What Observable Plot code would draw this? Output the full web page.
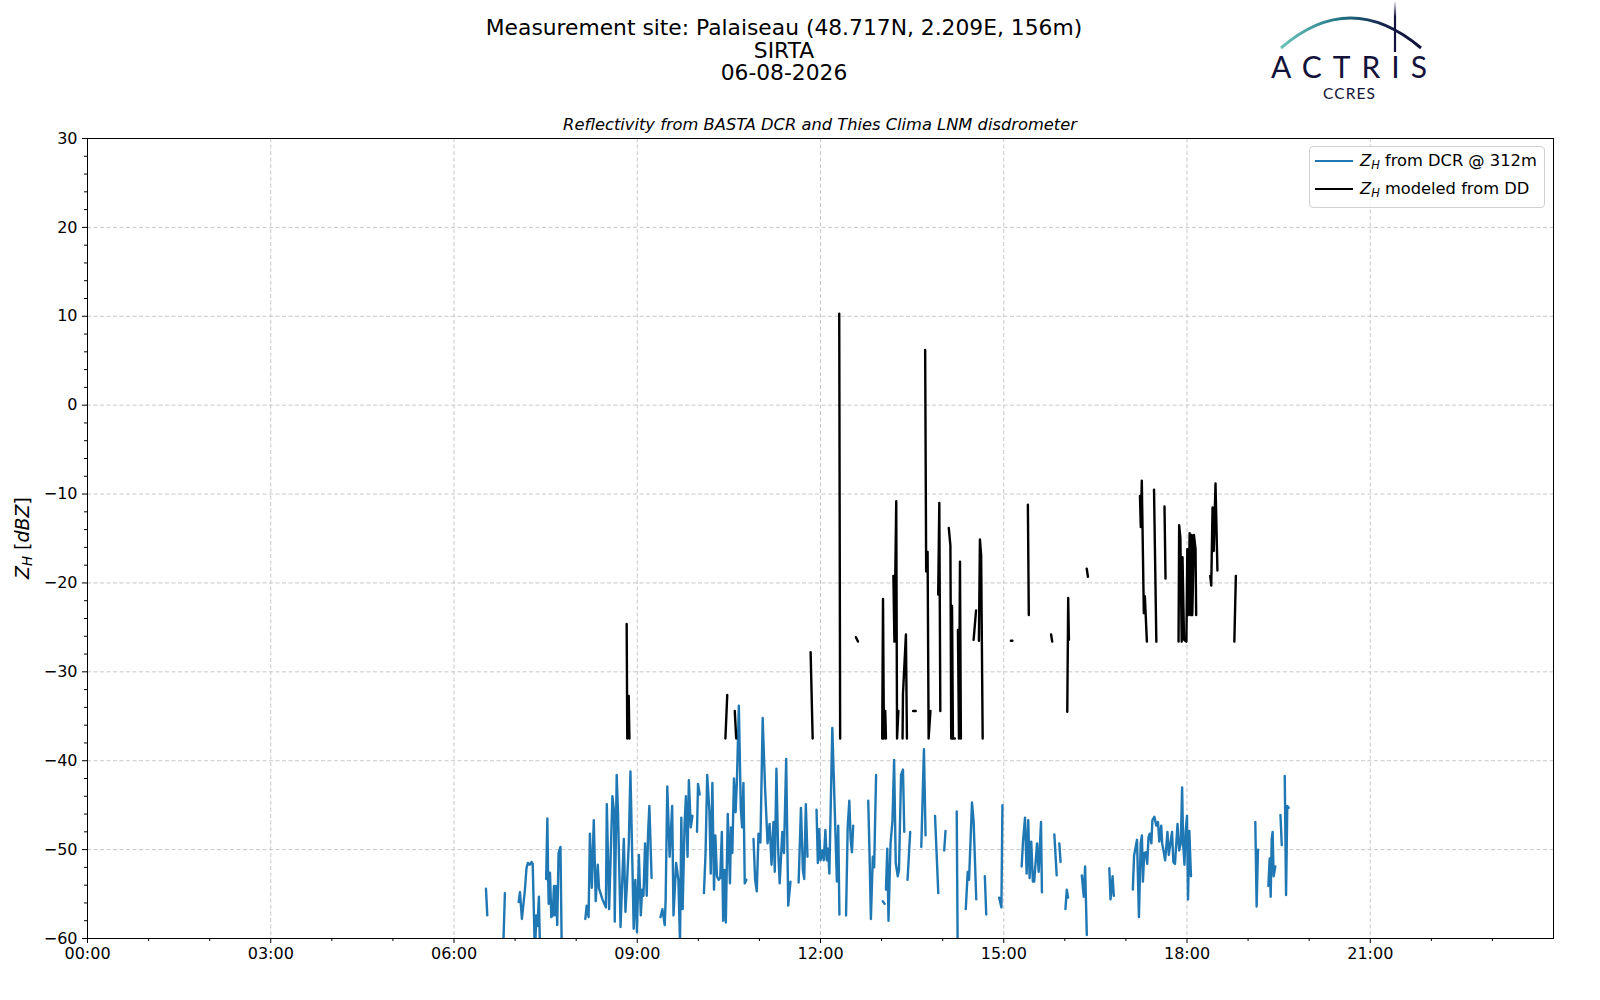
<!DOCTYPE html>
<html>
<head>
<meta charset="utf-8">
<script src="https://cdn.jsdelivr.net/npm/d3@7"></script>
<script src="https://cdn.jsdelivr.net/npm/@observablehq/plot@0.6"></script>
<style>
  html, body { margin: 0; padding: 0; background: #fff; }
  body { font-family: "DejaVu Sans", sans-serif; color: #000; }
  #wrap { position: relative; width: 1600px; height: 1000px; overflow: hidden; }
  #chart { position: absolute; left: 0; top: 0; }
  #title { position: absolute; left: 284px; width: 1000px; top: 17px; text-align: center;
           font-size: 21.8px; line-height: 22.5px; }
  #sub { position: absolute; left: 420px; width: 800px; top: 114px; text-align: center;
         font-size: 16.3px; line-height: 22px; font-style: italic; }
  #legend { position: absolute; left: 1309px; top: 146px; width: 236px; height: 62px;
            border: 1px solid #d0d0d0; border-radius: 4px; background: rgba(255,255,255,0.8);
            box-sizing: border-box; font-size: 16.3px; }
  .lg-line { position: absolute; left: 5px; width: 38px; height: 2px; }
  .lg-text { position: absolute; left: 50px; line-height: 22px; white-space: nowrap; }
  sub { font-size: 70%; vertical-align: -0.25em; line-height: 0; }
  #ylab { position: absolute; left: -78px; top: 526px; width: 200px; height: 24px; line-height: 24px;
          text-align: center; font-size: 19px; transform: rotate(-90deg); transform-origin: 100px 12px; white-space: nowrap; }
  #logo { position: absolute; left: 0; top: 0; }
  .logotxt { position: absolute; font-family: Lato, "DejaVu Sans", sans-serif; color: #12123a; white-space: nowrap; line-height: 1; }
  #actris { left: 1271px; top: 50.9px; font-size: 30px; }
  #ccres { left: 1323px; top: 86.2px; font-size: 15.5px; }
</style>
</head>
<body>
<div id="wrap">
  <div id="chart"></div>
  <div id="title">Measurement site: Palaiseau (48.717N, 2.209E, 156m)<br>SIRTA<br>06-08-2026</div>
  <div id="sub">Reflectivity from BASTA DCR and Thies Clima LNM disdrometer</div>
  <div id="legend">
    <div class="lg-line" style="top:13px;background:#1f77b4"></div>
    <div class="lg-text" style="top:3px"><i>Z</i><sub><i>H</i></sub> from DCR @ 312m</div>
    <div class="lg-line" style="top:41px;background:#000"></div>
    <div class="lg-text" style="top:31px"><i>Z</i><sub><i>H</i></sub> modeled from DD</div>
  </div>
  <div id="ylab"><i>Z</i><sub><i>H</i></sub> [<i>dBZ</i>]</div>
  <svg id="logo" width="1600" height="60" viewBox="0 0 1600 60">
    <defs>
      <linearGradient id="arcg" x1="1281" y1="0" x2="1420" y2="0" gradientUnits="userSpaceOnUse">
        <stop offset="0" stop-color="#6cc5bd"/>
        <stop offset="0.45" stop-color="#1f6f80"/>
        <stop offset="0.75" stop-color="#16204a"/>
        <stop offset="1" stop-color="#12123a"/>
      </linearGradient>
      <linearGradient id="vg" x1="0" y1="2" x2="0" y2="52" gradientUnits="userSpaceOnUse">
        <stop offset="0" stop-color="#12123a" stop-opacity="0.1"/>
        <stop offset="0.3" stop-color="#12123a" stop-opacity="1"/>
      </linearGradient>
    </defs>
    <path d="M1281,48 Q1350,-12 1421,48" fill="none" stroke="url(#arcg)" stroke-width="3"/>
    <line x1="1395" y1="2" x2="1395" y2="52" stroke="url(#vg)" stroke-width="2.2"/>
  </svg>
  <div id="actris" class="logotxt">ACTRIS</div>
  <div id="ccres" class="logotxt">CCRES</div>
</div>
<script>
// ---- data (minutes after 00:00 UTC, reflectivity dBZ); null = gap ----
const dcrMin = [
  391.4,392.7,null,
  408.1,410.0,null,
  423.5,424.8,426.7,429.6,431.2,432.5,434.4,436.3,437.3,439.5,440.8,442.0,443.4,444.6,null,
  450.5,451.7,452.4,453.0,454.3,455.6,456.9,458.2,458.8,460.0,461.4,462.7,464.6,465.9,null,
  489.0,490.3,492.2,493.5,495.4,497.3,499.2,501.2,502.5,505.8,509.2,510.1,512.4,515.6,517.2,517.9,519.8,521.1,523.6,526.8,528.4,530.1,531.7,533.3,535.2,536.5,538.1,539.7,541.6,543.5,544.8,546.1,547.7,549.3,550.6,551.9,554.1,null,
  562.8,564.7,567.0,567.9,569.5,571.8,574.3,575.6,578.2,580.4,582.0,583.3,584.6,586.5,587.8,589.4,590.7,592.6,594.2,null,
  598.7,599.7,601.3,null,
  605.5,607.1,608.7,610.9,612.2,613.8,615.4,616.7,618.3,619.9,621.5,623.1,624.4,625.7,627.0,628.9,631.1,632.1,633.4,635.0,636.6,637.9,639.8,641.7,643.0,644.3,645.6,647.2,null,
  654.2,655.8,657.4,659.1,661.0,663.2,665.5,668.0,670.0,671.9,673.8,675.1,676.7,678.3,679.9,682.5,684.1,686.3,688.3,690.5,null,
  698.5,700.8,702.7,704.0,705.6,707.2,null,
  716.1,717.4,718.7,720.0,721.9,723.2,724.8,726.1,727.4,728.7,731.6,736.1,737.4,738.6,null,
  745.1,746.7,748.3,749.6,750.9,752.1,null,
  766.9,768.2,769.5,771.4,772.7,774.6,null,
  781.1,783.0,null,
  784.3,785.6,786.8,788.8,790.7,792.3,793.9,795.9,797.1,799.1,801.0,802.3,null,
  805.5,808.1,null,
  819.0,821.6,823.2,null,
  832.5,835.7,null,
  841.5,842.8,null,
  853.8,854.8,null,
  862.7,864.6,865.9,868.8,870.4,873.0,null,
  881.4,882.8,null,
  895.5,897.7,898.7,null,
  917.6,918.9,920.9,922.5,924.1,925.4,927.0,928.6,929.9,932.7,934.3,936.6,937.5,null,
  949.7,952.0,null,
  954.6,955.8,null,
  960.6,961.9,963.2,null,
  976.7,978.6,979.9,981.6,null,
  1003.7,1004.9,1006.9,1008.1,null,
  1026.8,1028.0,1030.9,1032.8,1034.5,1035.7,1036.7,1038.0,1039.6,1040.9,1042.2,1043.4,1045.0,1046.0,1047.9,1049.9,1051.5,1052.8,1054.7,1055.6,1056.9,1058.5,1059.5,1060.8,1062.1,1063.7,1065.3,1066.6,1068.2,1070.7,1072.3,1073.9,1075.2,1076.2,1077.5,1078.7,1080.0,1081.0,1082.3,1083.9,null,
  1147.1,1148.4,1149.7,null,
  1159.9,1161.2,1162.2,1163.2,1164.1,1165.1,1166.7,null,
  1171.8,1173.1,null,
  1176.0,1177.3,1178.5,1179.8
];
const dcrZ = [
  -54.4,-57.4,null,
  -62,-54.9,null,
  -55.9,-54.8,-57.8,-54.6,-52.1,-51.5,-51.7,-51.4,-51.6,-62,-57.4,-58.6,-55.3,-62,null,
  -53.3,-46.5,-52.6,-56.1,-52.6,-57.6,-57.4,-54.1,-57.4,-54.1,-58.5,-50.4,-49.7,-62,null,
  -57.8,-56.3,-57.6,-48.2,-54.3,-46.7,-55.8,-51.7,-54.4,-55.6,-56.5,-44.9,-56.7,-44.0,-45.7,-58.1,-41.6,-45.8,-58.7,-48.8,-57.0,-53.4,-49.3,-41.2,-51.5,-58.9,-53.4,-59.3,-50.6,-57.4,-54.5,-55.2,-49.3,-55.2,-48.2,-45.1,-53.2,null,
  -57.6,-56.7,-58.5,-55.6,-42.9,-50.8,-45.1,-57.4,-51.5,-53.4,-60.5,-46.4,-56.7,-47.1,-44.0,-50.8,-42.2,-47.5,-46.2,null,
  -48.0,-42.6,-43.8,null,
  -54.9,-50.4,-41.6,-45.7,-52.7,-42.5,-54.5,-48.4,-53.0,-53.4,-53.2,-48.0,-58.0,-52.3,-58.2,-46.0,-53.8,-47.5,-50.4,-42.0,-45.8,-42.3,-33.8,-45.3,-47.5,-42.5,-53.8,-53.4,null,
  -48.8,-53.4,-54.7,-48.2,-49.2,-35.2,-42.9,-49.3,-47.1,-51.7,-46.9,-52.5,-40.9,-49.7,-53.8,-48.0,-50.4,-39.8,-56.3,-53.6,null,
  -53.7,-45.3,-52.3,-53.3,-44.9,-50.8,null,
  -45.5,-51.5,-47.7,-51.2,-50.1,-51.2,-47.8,-51.2,-49.9,-52.7,-36.3,-53.6,-47.3,-57.3,null,
  -57.4,-47.5,-44.5,-48.8,-50.3,-47.3,null,
  -44.5,-50.6,-57.8,-50.8,-52.0,-41.6,null,
  -55.8,-56.1,null,
  -54.5,-49.9,-58.0,-49.3,-46.8,-39.9,-51.5,-53.0,-52.3,-41.6,-41.0,-48.0,null,
  -53.4,-48.0,null,
  -49.7,-38.7,-48.4,null,
  -46.2,-54.9,null,
  -50.1,-47.9,null,
  -45.7,-62,null,
  -56.7,-52.5,-53.4,-44.7,-46.8,-55.6,null,
  -53.0,-57.3,null,
  -55.4,-56.5,-45.0,null,
  -51.9,-49.1,-46.4,-52.7,-46.7,-53.2,-49.1,-53.6,-53.6,-49.3,-52.5,-46.9,-54.8,null,
  -48.3,-52.9,null,
  -49.3,-51.4,null,
  -56.7,-54.5,-55.4,null,
  -52.9,-55.3,-51.9,-59.6,null,
  -52.1,-55.6,-53.0,-55.2,null,
  -54.5,-50.7,-48.9,-57.6,-49.3,-48.4,-53.6,-50.4,-50.3,-51.6,-48.6,-48.2,-49.3,-46.7,-46.3,-47.3,-46.9,-49.1,-47.3,-49.3,-50.1,-51.2,-49.9,-48.0,-50.6,-49.3,-48.0,-51.4,-51.6,-47.1,-50.1,-49.3,-43.0,-49.3,-51.7,-47.9,-46.2,-55.6,-47.9,-53.0,null,
  -46.9,-56.4,-50.0,null,
  -54.1,-51.0,-55.3,-48.8,-48.0,-53.0,-51.9,null,
  -46.1,-49.5,null,
  -41.7,-55.1,-45.1,-45.3
];
const ddMin = [
  529.6,530.2,531.6,532.3,null,
  626.6,628.4,null,
  635.8,637.2,null,
  710.3,712.3,null,
  738.4,739.3,null,
  754.8,756.8,null,
  780.6,781.4,782.3,783.6,784.3,null,
  791.6,792.6,794.4,795.2,796.5,null,
  800.6,801.0,803.9,804.9,null,
  811.0,813.5,null,
  822.8,823.8,825.2,826.2,828.0,null,
  835.6,836.7,837.7,null,
  846.0,847.6,848.4,849.2,850.1,852.0,null,
  855.0,856.0,857.0,857.9,null,
  870.4,872.8,null,
  875.6,876.6,877.8,879.3,null,
  907.0,908.5,null,
  923.7,924.6,null,
  946.5,947.6,null,
  962.4,963.3,964.0,null,
  981.5,982.7,null,
  1033.8,1034.6,1035.6,1037.6,1038.6,1040.6,null,
  1047.6,1049.9,null,
  1057.9,1058.9,null,
  1071.7,1072.3,1073.5,1074.8,1075.6,1077.1,1079.4,1080.3,1081.3,1082.6,1083.5,1084.5,1085.2,1086.8,1088.4,1089.0,null,
  1102.8,1103.8,1105.1,1106.3,1108.0,1109.9,null,
  1126.5,1128.0
];
const ddZ = [
  -24.6,-37.5,-32.7,-37.5,null,
  -37.5,-32.6,null,
  -34.4,-37.5,null,
  -27.8,-37.5,null,
  10.3,-37.5,null,
  -26.1,-26.6,null,
  -37.5,-21.8,-37.5,-34.4,-37.5,null,
  -19.2,-26.6,-10.8,-37.5,-34.4,null,
  -37.5,-32.5,-25.8,-37.5,null,
  -34.4,-34.4,null,
  6.2,-18.7,-16.5,-37.5,-34.4,null,
  -21.3,-11.0,-34.4,null,
  -13.8,-15.8,-37.5,-22.6,-37.5,-37.5,null,
  -25.3,-37.5,-17.6,-37.5,null,
  -26.4,-23.1,null,
  -26.5,-15.1,-16.9,-37.5,null,
  -26.5,-26.5,null,
  -11.2,-23.6,null,
  -25.8,-26.6,null,
  -34.5,-21.7,-26.4,null,
  -18.4,-19.3,null,
  -10.2,-13.7,-8.5,-23.4,-21.5,-26.6,null,
  -9.5,-26.6,null,
  -11.4,-19.5,null,
  -26.6,-13.5,-14.9,-26.6,-17.1,-26.4,-26.6,-16.2,-23.6,-14.4,-23.6,-14.6,-23.6,-14.6,-16.2,-23.6,null,
  -19.2,-20.3,-11.5,-16.4,-8.8,-18.6,null,
  -26.6,-19.2
];
const xTickMin = [0, 180, 360, 540, 720, 900, 1080, 1260];
const xTickLabels = ["00:00","03:00","06:00","09:00","12:00","15:00","18:00","21:00"];
const yTicks = [-60, -50, -40, -30, -20, -10, 0, 10, 20, 30];
const yDomain = [-60, 30];
const xDomainMin = [0, 1440];

// ---- build ----
const day0 = Date.UTC(2026, 7, 6);
const toDate = m => new Date(day0 + m * 60000);
const dcr = dcrMin.map((t, i) => ({t: t == null ? null : toDate(t), z: dcrZ[i]}));
const dd = ddMin.map((t, i) => ({t: t == null ? null : toDate(t), z: ddZ[i]}));
const xMajor = xTickMin.map(toDate);
const xMinor = d3.range(xDomainMin[0], xDomainMin[1] + 1, 60).filter(m => m % 180 !== 0).map(toDate);
const yMinor = d3.range(yDomain[0], yDomain[1] + 1, 2).filter(v => v % 10 !== 0);
const labelOf = new Map(xTickMin.map((m, i) => [+toDate(m), xTickLabels[i]]));
const fmtY = v => v < 0 ? "\u2212" + (-v) : String(v);

const chart = Plot.plot({
  width: 1600,
  height: 1000,
  marginTop: 138,
  marginLeft: 87,
  marginRight: 47,
  marginBottom: 62,
  style: {fontFamily: "DejaVu Sans, sans-serif", fontSize: "16px", color: "#000", background: "transparent", overflow: "visible"},
  x: {type: "utc", domain: xDomainMin.map(toDate)},
  y: {domain: yDomain},
  marks: [
    Plot.gridX(xMajor.slice(1), {stroke: "#c8c8c8", strokeOpacity: 1, strokeDasharray: "4,2.5", strokeWidth: 1}),
    Plot.gridY(yTicks.slice(1, -1), {stroke: "#c8c8c8", strokeOpacity: 1, strokeDasharray: "4,2.5", strokeWidth: 1}),
    Plot.line(dcr, {x: "t", y: "z", stroke: "#1f77b4", strokeWidth: 2.4, strokeLinejoin: "round", clip: true}),
    Plot.line(dd, {x: "t", y: "z", stroke: "#000000", strokeWidth: 2.4, strokeLinejoin: "round", clip: true}),
    Plot.frame({stroke: "#000", strokeWidth: 1}),
    Plot.axisX(xMajor, {tickSize: 5, tickPadding: 4, tickFormat: d => labelOf.get(+d), label: null, fontSize: 16}),
    Plot.axisX(xMinor, {tickSize: 3, tickFormat: () => "", label: null}),
    Plot.axisY(yTicks, {tickSize: 5, tickPadding: 5, tickFormat: fmtY, label: null, fontSize: 16}),
    Plot.axisY(yMinor, {tickSize: 3, tickFormat: () => "", label: null})
  ]
});
document.getElementById("chart").appendChild(chart);

// fit logo words to their widths
function fitWidth(id, target) {
  const el = document.getElementById(id);
  el.style.letterSpacing = "0px";
  const n = el.textContent.length;
  const w = el.getBoundingClientRect().width;
  el.style.letterSpacing = ((target - w) / (n - 1)) + "px";
}
function fitLogo() { fitWidth("actris", 156); fitWidth("ccres", 52); }
fitLogo();
if (document.fonts && document.fonts.ready) document.fonts.ready.then(fitLogo);
</script>
</body>
</html>
